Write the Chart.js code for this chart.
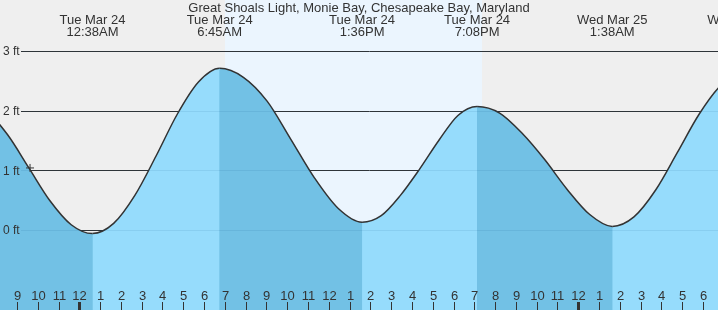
<!DOCTYPE html>
<html>
<head>
<meta charset="utf-8">
<script src="https://cdn.jsdelivr.net/npm/chart.js@4.4.1/dist/chart.umd.min.js"></script>
<style>
  html, body { margin: 0; padding: 0; background: #efefef; }
  #wrap { width: 718px; height: 310px; }
</style>
</head>
<body>
<div id="wrap"><canvas id="tideChart" width="718" height="310"></canvas></div>
<script>
// hours counted from midnight, Tue Mar 24; each half tide read at six even steps
const hours   = [-5.5, -4.478, -3.456, -2.433, -1.411, -0.389,
                 0.633, 1.652, 2.672, 3.692, 4.711, 5.731,
                 6.75, 7.892, 9.033, 10.175, 11.317, 12.458,
                 13.6, 14.522, 15.444, 16.367, 17.289, 18.211,
                 19.133, 20.217, 21.3, 22.383, 23.467, 24.55,
                 25.633, 26.678, 27.722, 28.767, 29.811, 30.856, 31.9];
const heights = [2.15, 2.00, 1.60, 1.045, 0.49, 0.088,
                 -0.06, 0.11, 0.58, 1.24, 1.94, 2.48,
                 2.71, 2.56, 2.16, 1.52, 0.87, 0.36,
                 0.13, 0.24, 0.58, 1.02, 1.50, 1.92,
                 2.07, 1.96, 1.62, 1.18, 0.68, 0.26,
                 0.06, 0.22, 0.67, 1.30, 1.94, 2.42, 2.60];

const nowHour = [-2.37];
const nowHeight = [1.04];

const dayStart = [7.02];
const dayEnd = [19.37];

const extremeHours = [0.633, 6.75, 13.6, 19.133, 25.633, 31.9];
const extremeDays  = ['Tue Mar 24', 'Tue Mar 24', 'Tue Mar 24', 'Tue Mar 24', 'Wed Mar 25', 'Wed Mar 25'];
const extremeTimes = ['12:38AM', '6:45AM', '1:36PM', '7:08PM', '1:38AM', '7:54AM'];

const tickHours  = [-3, -2, -1, 0, 1, 2, 3, 4, 5, 6, 7, 8, 9, 10, 11, 12, 13, 14, 15, 16, 17, 18, 19, 20, 21, 22, 23, 24, 25, 26, 27, 28, 29, 30];
const tickLabels = ['9', '10', '11', '12', '1', '2', '3', '4', '5', '6', '7', '8', '9', '10', '11', '12', '1', '2', '3', '4', '5', '6', '7', '8', '9', '10', '11', '12', '1', '2', '3', '4', '5', '6'];
const midnightHours = [0, 24];

const feetTicks  = [0, 1, 2, 3];
const feetLabels = ['0 ft', '1 ft', '2 ft', '3 ft'];

const title = 'Great Shoals Light, Monie Bay, Chesapeake Bay, Maryland';

const NIGHT_BG = '#efefef';
const DAY_BG = '#ebf5fe';
const FALL_FILL = '#72c1e5';
const RISE_FILL = '#96dcfc';
const TEXT = '#333';
const FONT = '"Liberation Sans", Arial, sans-serif';

const tideDecor = {
    id: 'tideDecor',
    beforeDatasetsDraw(chart) {
        let ctx = chart.ctx;
        let area = chart.chartArea;
        let x = chart.scales.x, y = chart.scales.y;
        ctx.save();
        // night / day background
        ctx.fillStyle = NIGHT_BG;
        ctx.fillRect(area.left, area.top, area.right - area.left, area.bottom - area.top);
        ctx.fillStyle = DAY_BG;
        for (let i = 0; i < dayStart.length; i++) {
            let x0 = Math.round(x.getPixelForValue(dayStart[i]));
            let x1 = Math.round(x.getPixelForValue(dayEnd[i]));
            ctx.fillRect(x0, area.top, x1 - x0, area.bottom - area.top);
        }
        // grid lines (seen above the water)
        ctx.strokeStyle = '#333';
        ctx.lineWidth = 1;
        feetTicks.forEach(v => {
            let py = Math.round(y.getPixelForValue(v)) + 0.5;
            ctx.beginPath();
            ctx.moveTo(21, py);
            ctx.lineTo(area.right, py);
            ctx.stroke();
        });
        ctx.restore();
    },
    afterDatasetsDraw(chart) {
        let ctx = chart.ctx;
        let area = chart.chartArea;
        let x = chart.scales.x, y = chart.scales.y;
        ctx.save();
        // faint grid through the water
        ctx.strokeStyle = 'rgba(0, 70, 120, 0.09)';
        ctx.lineWidth = 1;
        feetTicks.forEach(v => {
            let py = Math.round(y.getPixelForValue(v)) + 0.5;
            ctx.beginPath();
            ctx.moveTo(21, py);
            ctx.lineTo(area.right, py);
            ctx.stroke();
        });

        ctx.fillStyle = TEXT;
        // feet labels
        ctx.font = '12px ' + FONT;
        ctx.textAlign = 'left';
        ctx.textBaseline = 'middle';
        feetTicks.forEach((v, i) => {
            ctx.fillText(feetLabels[i], 3, y.getPixelForValue(v) + 1);
        });

        // hour ticks and labels
        ctx.font = '13px ' + FONT;
        ctx.textAlign = 'center';
        ctx.textBaseline = 'alphabetic';
        tickHours.forEach((h, i) => {
            let px = Math.round(x.getPixelForValue(h));
            let bold = midnightHours.includes(h);
            ctx.fillRect(bold ? px - 1 : px, 302, bold ? 3 : 1, 8);
            ctx.fillText(tickLabels[i], px + 0.5, 300);
        });

        // title and high / low labels
        ctx.fillText(title, (area.left + area.right) / 2, 12);
        extremeHours.forEach((h, i) => {
            let px = x.getPixelForValue(h);
            ctx.fillText(extremeDays[i], px, 24);
            ctx.fillText(extremeTimes[i], px, 36);
        });
        ctx.restore();
    }
};

let tidePoints = hours.map((h, i) => ({ x: h, y: heights[i] }));

let tideChart = new Chart(document.getElementById('tideChart').getContext('2d'), {
    type: 'line',
    data: {
        datasets: [
            {
                // water body, falling-tide colour
                data: tidePoints,
                borderWidth: 0,
                borderColor: 'rgba(0,0,0,0)',
                pointRadius: 0,
                fill: 'start',
                backgroundColor: FALL_FILL,
                cubicInterpolationMode: 'monotone',
                order: 3
            },
            {
                // rising tide segments in the lighter blue, plus the curve itself
                data: tidePoints,
                borderColor: '#333',
                borderWidth: 1.5,
                pointRadius: 0,
                fill: 'start',
                backgroundColor: FALL_FILL,
                cubicInterpolationMode: 'monotone',
                segment: {
                    backgroundColor: c => c.p1.parsed.y > c.p0.parsed.y ? RISE_FILL : FALL_FILL
                },
                order: 2
            },
            {
                data: nowHour.map((h, i) => ({ x: h, y: nowHeight[i] })),
                showLine: false,
                pointStyle: 'cross',
                pointRadius: 4,
                borderColor: '#333',
                borderWidth: 1,
                fill: false,
                order: 1
            }
        ]
    },
    options: {
        responsive: false,
        devicePixelRatio: 1,
        animation: false,
        layout: { padding: 0, autoPadding: false },
        plugins: {
            legend: { display: false },
            tooltip: { enabled: false }
        },
        scales: {
            x: { type: 'linear', min: -3.814, max: 30.72, display: false },
            y: { type: 'linear', min: -1.341, max: 3.855, display: false }
        }
    },
    plugins: [tideDecor]
});
</script>
</body>
</html>
